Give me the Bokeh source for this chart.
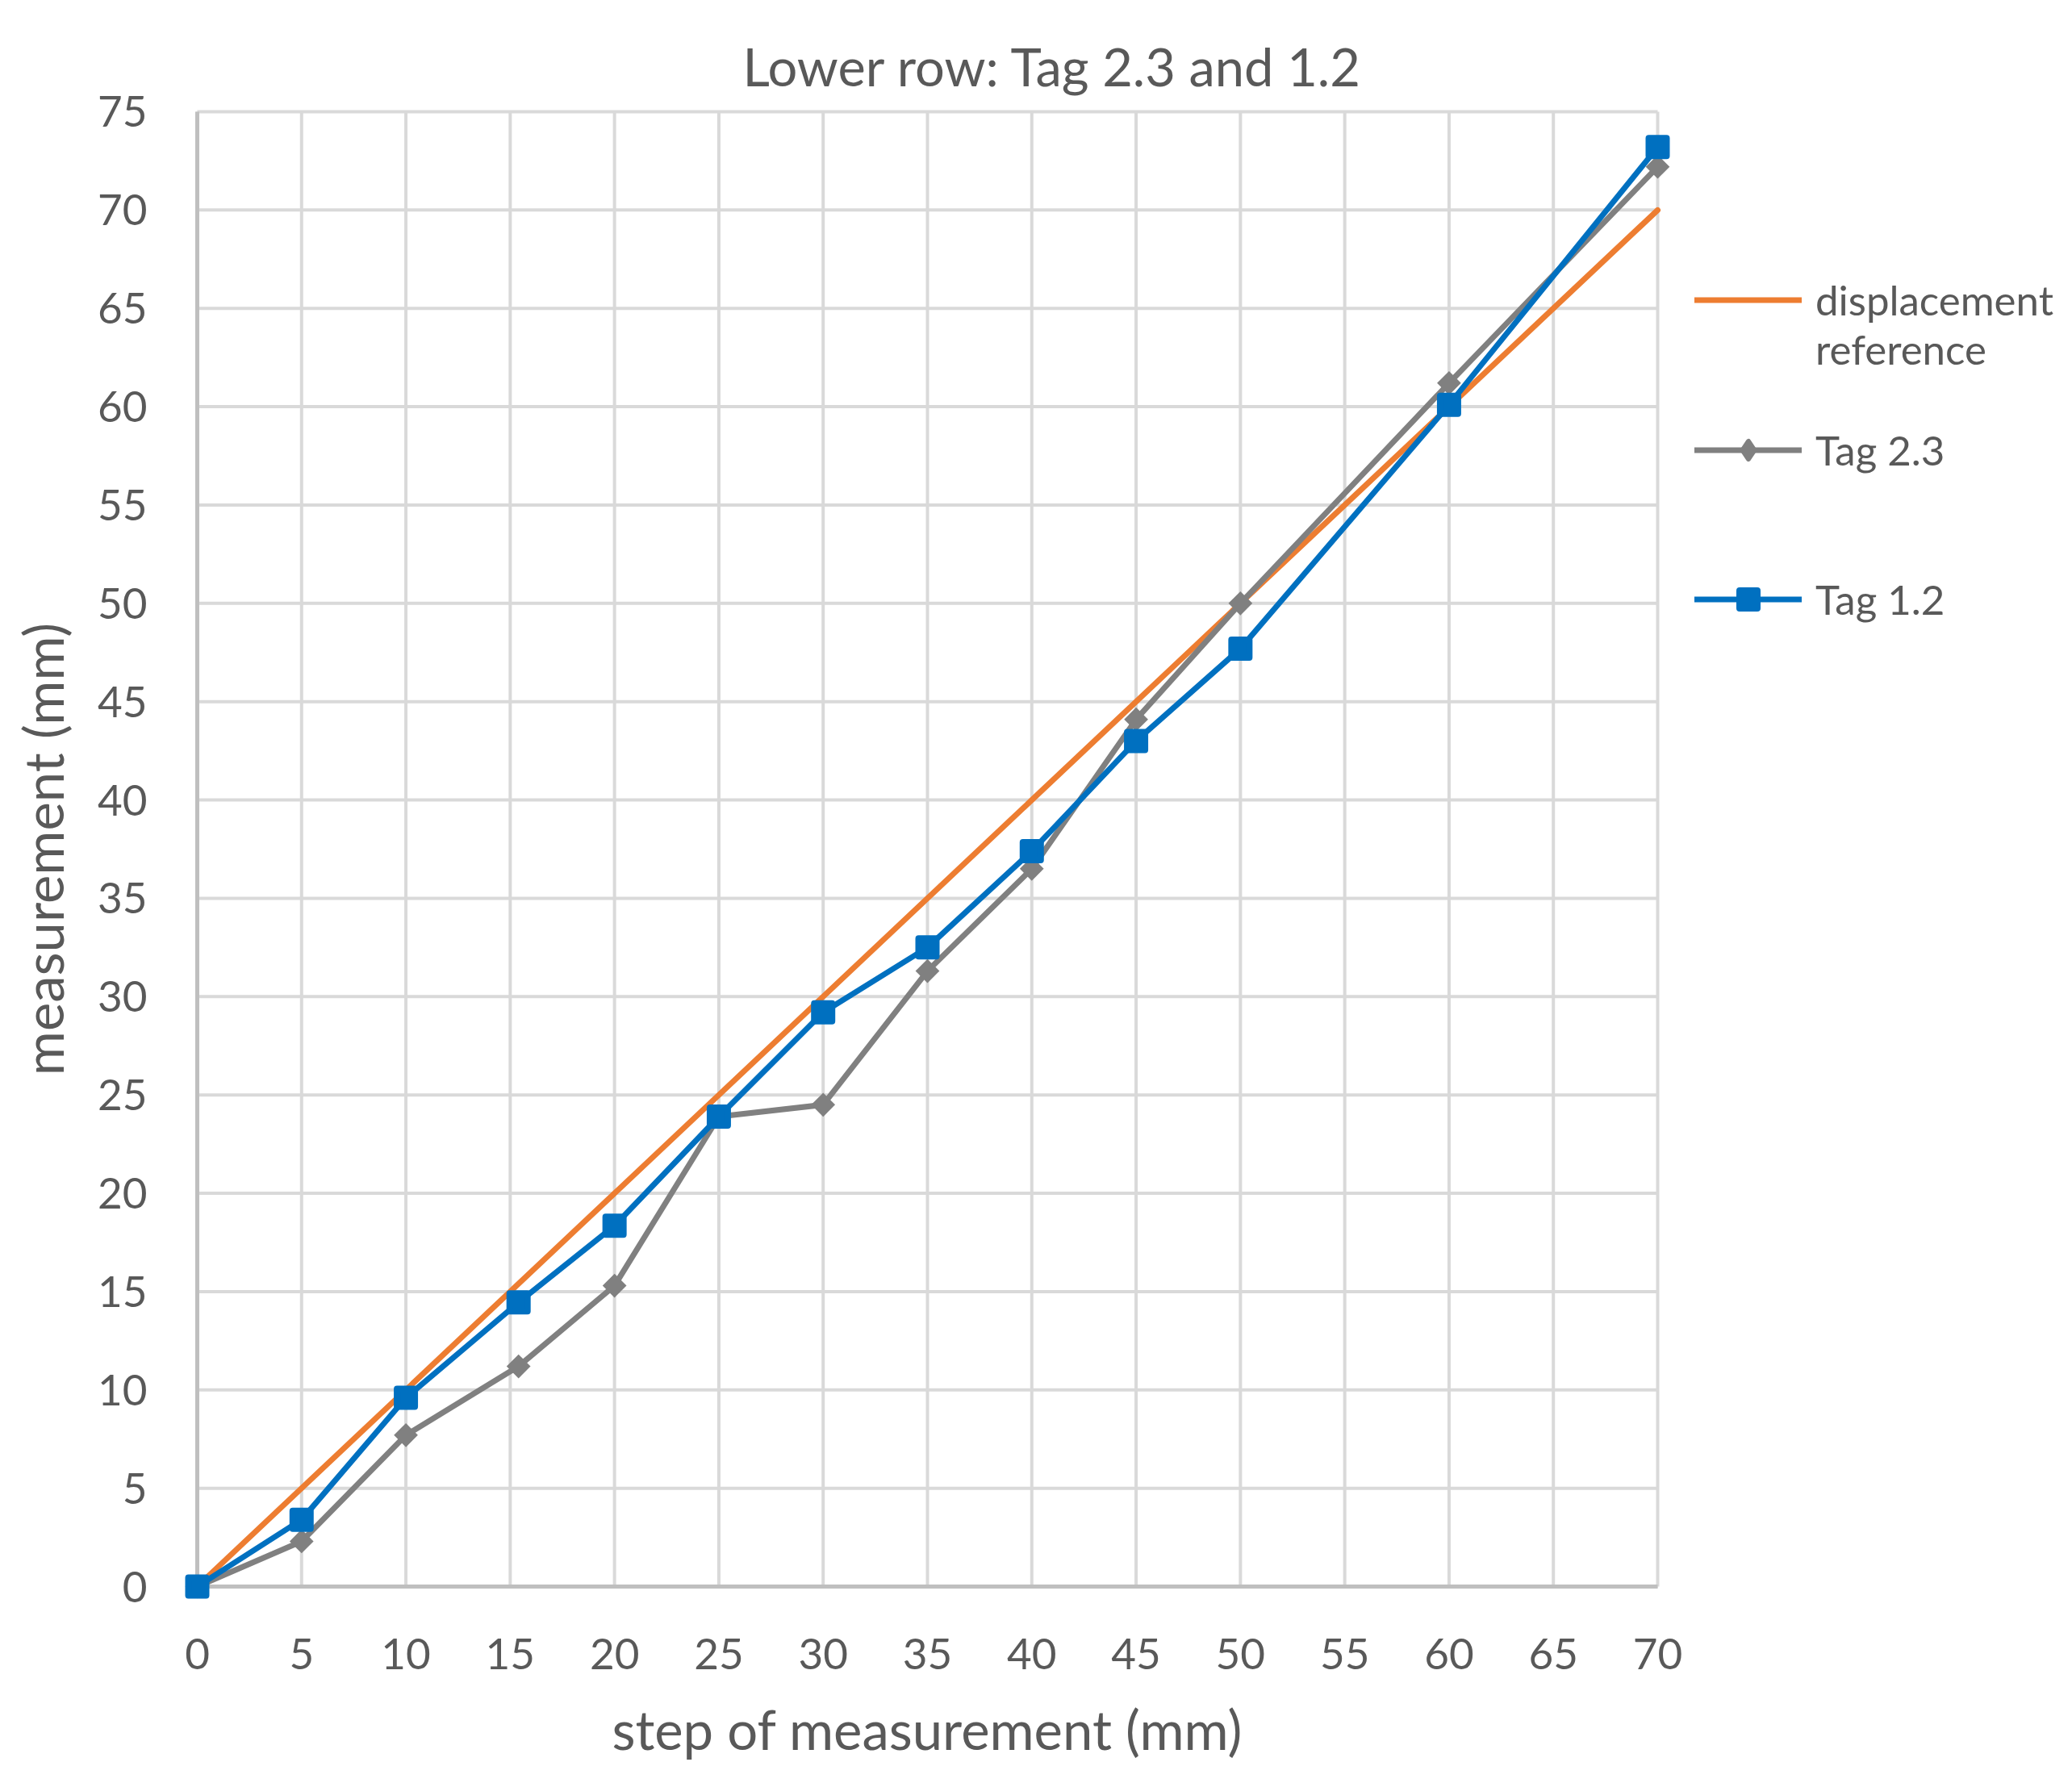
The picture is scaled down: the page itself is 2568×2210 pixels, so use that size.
from bokeh.plotting import figure
from bokeh.models import Range1d, FixedTicker, Legend, LegendItem, LinearAxis, Title
from bokeh.embed import file_html
from bokeh.resources import INLINE

# ---- data ----
steps = [0, 5, 10, 15.4, 20, 25, 30, 35, 40, 45, 50, 60, 70]
tag_2_3 = [0, 2.3, 7.7, 11.2, 15.3, 23.9, 24.5, 31.3, 36.5, 44.1, 50.0, 61.2, 72.2]
tag_1_2 = [0, 3.4, 9.6, 14.45, 18.35, 23.9, 29.2, 32.5, 37.4, 43.0, 47.7, 60.1, 73.2]
ref_x = [0, 70]
ref_y = [0, 70]
x_ticks = list(range(0, 75, 5))
y_ticks = list(range(0, 80, 5))
x_lo, x_hi = 0, 70
y_lo, y_hi = 0, 75

FONT = "Lato"
TXT = "#595959"
ORANGE = "#ED7D31"
GRAY = "#808080"
BLUE = "#0070C0"

FRAME_W, FRAME_H = 1846, 1864
BORDER_L, BORDER_T, BORDER_B = 226, 120, 210
BORDER_R = 2552 - BORDER_L - FRAME_W
pad_x = 0.696
pad_y = 0.738
p = figure(frame_width=FRAME_W, frame_height=FRAME_H,
           x_range=Range1d(x_lo - pad_x, x_hi + pad_x),
           y_range=Range1d(y_lo - pad_y, y_hi + pad_y),
           min_border_left=BORDER_L, min_border_right=BORDER_R,
           min_border_top=BORDER_T, min_border_bottom=BORDER_B,
           output_backend="svg", toolbar_location=None, title=None)
p.outline_line_alpha = 0
p.grid.visible = False

# an empty, invisible top axis adds a gap between the title and the plot area
p.add_layout(LinearAxis(ticker=FixedTicker(ticks=[]), axis_line_alpha=0,
                        major_tick_out=33, major_tick_in=0,
                        minor_tick_out=0, minor_tick_in=0,
                        major_label_standoff=0), "above")
p.add_layout(Title(text="Lower row: Tag 2.3 and 1.2", text_font=FONT,
                   text_font_size="65px", text_font_style="normal",
                   text_color=TXT, align="left", offset=694, standoff=0),
             "above")

# gridlines from tick lists
p.segment(x0=x_ticks, y0=y_lo, x1=x_ticks, y1=y_hi, line_color="#D9D9D9", line_width=4)
p.segment(x0=x_lo, y0=y_ticks, x1=x_hi, y1=y_ticks, line_color="#D9D9D9", line_width=4)
# axis lines
p.segment(x0=[x_lo], y0=[y_lo], x1=[x_lo], y1=[y_hi], line_color="#BFBFBF", line_width=5)
p.segment(x0=[x_lo], y0=[y_lo], x1=[x_hi], y1=[y_lo], line_color="#BFBFBF", line_width=5)

xax, yax = p.below[0], p.left[0]
for ax, ticks in ((xax, x_ticks), (yax, y_ticks)):
    ax.ticker = FixedTicker(ticks=ticks)
    ax.axis_line_alpha = 0
    ax.major_tick_out = 0
    ax.major_tick_in = 0
    ax.minor_tick_out = 0
    ax.minor_tick_in = 0
    ax.major_label_text_font = FONT
    ax.major_label_text_font_size = "53px"
    ax.major_label_text_color = TXT
    ax.axis_label_text_font = FONT
    ax.axis_label_text_font_size = "67px"
    ax.axis_label_text_font_style = "normal"
    ax.axis_label_text_color = TXT

xax.axis_label = "step of measurement (mm)"
yax.axis_label = "measurement (mm)"
xax.major_label_standoff = 46
yax.major_label_standoff = 44
xax.axis_label_standoff = 31
yax.axis_label_standoff = 25

LW = 7
r_ref = p.line(ref_x, ref_y, line_color=ORANGE, line_width=LW,
               line_cap="round", line_join="round")
r_g_line = p.line(steps, tag_2_3, line_color=GRAY, line_width=LW,
                  line_cap="round", line_join="round")
# diamond key used by the legend (legend keys are drawn unrotated); hidden under the markers
r_g_key = p.scatter(steps, tag_2_3, marker="diamond", size=18, fill_color=GRAY,
                    line_color=GRAY, line_width=6, line_join="round")
r_g_pts = p.scatter(steps, tag_2_3, marker="square", angle=0.785398, size=21,
                    fill_color=GRAY, line_color=GRAY, line_width=0)
r_b_line = p.line(steps, tag_1_2, line_color=BLUE, line_width=LW,
                  line_cap="round", line_join="round")
r_b_pts = p.scatter(steps, tag_1_2, marker="square", size=22,
                    fill_color=BLUE, line_color=BLUE, line_width=8,
                    line_join="round")

# legend rows (blank lines keep the glyph level with the first word)
LINE = 61
ROW1 = 68
H3 = 3 * LINE
SPACING = 60
legend_top = 280
legend_h = 2 * H3 + ROW1 + 2 * SPACING
frame_bottom = BORDER_T + FRAME_H
legend = Legend(items=[
                    LegendItem(label=" \ndisplacement\nreference", renderers=[r_ref]),
                    LegendItem(label="Tag 2.3", renderers=[r_g_line, r_g_key]),
                    LegendItem(label=" \nTag 1.2\n ", renderers=[r_b_line, r_b_pts]),
                ],
                location=(28, frame_bottom - (legend_top + legend_h)),
                glyph_width=133, glyph_height=55, label_height=ROW1,
                label_standoff=17, padding=0, margin=0, spacing=SPACING,
                border_line_alpha=0, background_fill_alpha=0,
                label_text_font=FONT, label_text_font_size="51px",
                label_text_color=TXT)
p.add_layout(legend, "right")

open("out.html", "w").write(file_html(p, INLINE))
